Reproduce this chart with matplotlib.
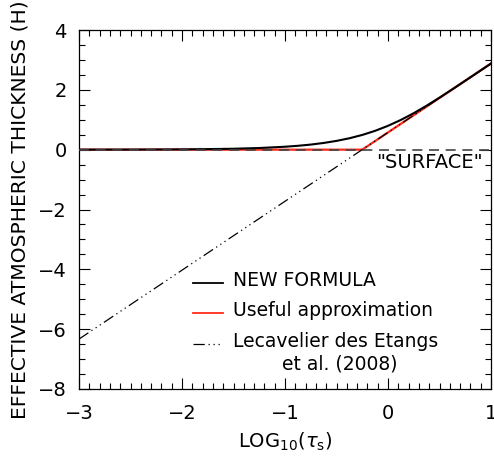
import matplotlib
matplotlib.use("Agg")
import matplotlib.pyplot as plt
from matplotlib.ticker import MultipleLocator

# log10(tau_s) sample points and effective thickness (in units of H)
log_tau = [-3.0, -2.5, -2.0, -1.75, -1.5, -1.25, -1.0, -0.875, -0.75, -0.625,
           -0.5, -0.375, -0.25, -0.125, 0.0, 0.125, 0.25, 0.375, 0.5, 0.625,
           0.75, 0.875, 1.0]
new_formula = [0.001, 0.003, 0.010, 0.018, 0.031, 0.055, 0.098, 0.129, 0.170, 0.224,
               0.293, 0.381, 0.492, 0.630, 0.797, 0.994, 1.220, 1.470, 1.739, 2.019,
               2.305, 2.592, 2.880]

# useful approximation: flat at zero, then follows the straight line
approx_x = [-3.0, -0.25, 1.0]
approx_y = [0.0, 0.0, 2.880]

# Lecavelier des Etangs et al. (2008): straight line
lecav_x = [-3.0, 1.0]
lecav_y = [-6.331, 2.880]

surface_x = [-3.0, 1.0]
surface_y = [0.0, 0.0]

RED = "#ff2a1a"
DASHDOT = (0, (9, 3, 1, 3, 1, 3, 1, 3))

fig = plt.figure(figsize=(4.94, 4.57), dpi=100)
ax = fig.add_axes([79 / 494, 1 - 389 / 457, 412 / 494, 359 / 457])

ax.plot(log_tau, new_formula, color="black", lw=1.5, zorder=3)
ax.plot(approx_x, approx_y, color=RED, lw=1.6, zorder=2)
ax.plot(lecav_x, lecav_y, color="black", lw=0.9, ls=DASHDOT, zorder=4)
ax.plot(surface_x, surface_y, color="#444444", lw=1.2, ls=(0, (6, 4)), zorder=4)

ax.text(0.40, -0.42, '"SURFACE"', fontsize=14, ha="center", va="center")

# legend drawn by hand: short sample line at the baseline of each label
entries = [("NEW FORMULA", "black", "-", 1.3),
           ("Useful approximation", RED, "-", 1.3),
           ("Lecavelier des Etangs", "black", DASHDOT, 0.9)]
baselines = [0.286, 0.2033, 0.117]
for (label, col, ls, lw), yb in zip(entries, baselines):
    ax.plot([0.2767, 0.3495], [yb + 0.008, yb + 0.008], transform=ax.transAxes,
            color=col, ls=ls, lw=lw, clip_on=False)
    ax.text(0.3738, yb, label, transform=ax.transAxes, fontsize=13.5,
            ha="left", va="baseline")
ax.text(0.632, 0.053, "et al. (2008)", transform=ax.transAxes, fontsize=13.5,
        ha="center", va="baseline")

ax.set_xlim(-3, 1)
ax.set_ylim(-8, 4)
ax.xaxis.set_major_locator(MultipleLocator(1))
ax.xaxis.set_minor_locator(MultipleLocator(0.1))
ax.yaxis.set_major_locator(MultipleLocator(2))
ax.yaxis.set_minor_locator(MultipleLocator(0.5))
ax.tick_params(which="both", direction="in", top=True, right=True, width=0.8,
               labelsize=14)
ax.tick_params(axis="x", pad=11)
ax.tick_params(axis="y", pad=9)
ax.tick_params(which="major", length=8)
ax.tick_params(which="minor", length=4)
for sp in ax.spines.values():
    sp.set_linewidth(0.9)

ax.set_xlabel(r"LOG$_{10}$($\tau_{\rm s}$)", fontsize=14, labelpad=5)
ax.set_ylabel("EFFECTIVE ATMOSPHERIC THICKNESS (H)", fontsize=14.6)
ax.yaxis.set_label_coords(-0.12, 0.5)

fig.savefig("out.png", dpi=100)
